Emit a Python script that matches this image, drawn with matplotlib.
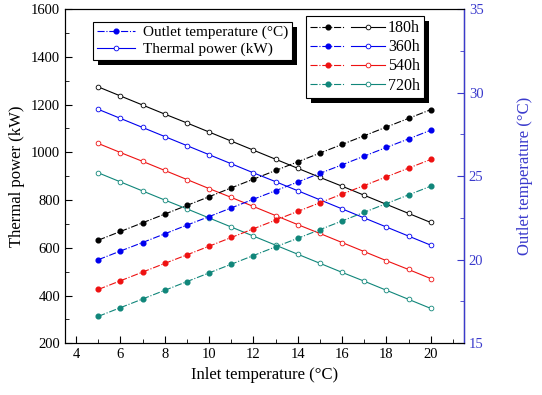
import numpy as np
import matplotlib
matplotlib.use("Agg")
import matplotlib.pyplot as plt
from matplotlib.lines import Line2D
from matplotlib.legend_handler import HandlerTuple
from matplotlib.patches import Rectangle
from matplotlib.ticker import MultipleLocator

plt.rcParams['font.family'] = ['Liberation Serif', 'DejaVu Serif']

# data
inlet = [5, 6, 7, 8, 9, 10, 11, 12, 13, 14, 15, 16, 17, 18, 19, 20]
hours = ['180h', '360h', '540h', '720h']
colors = ['black', '#0000ee', '#ee1111', '#10867a']

power = {
    '180h': [1274, 1236, 1198, 1160, 1123, 1085, 1047, 1009, 971, 933, 895, 858, 820, 782, 744, 706],
    '360h': [1180, 1142, 1104, 1066, 1028, 990, 952, 914, 877, 839, 801, 763, 725, 687, 649, 611],
    '540h': [1037, 999, 962, 924, 886, 848, 811, 773, 735, 697, 660, 622, 584, 546, 509, 471],
    '720h': [914, 876, 838, 800, 763, 725, 687, 649, 611, 573, 535, 497, 460, 422, 384, 346],
}
outlet = {
    '180h': [21.17, 21.69, 22.21, 22.73, 23.25, 23.77, 24.30, 24.82, 25.34, 25.86, 26.38, 26.90, 27.42, 27.94, 28.46, 28.98],
    '360h': [20.00, 20.52, 21.03, 21.55, 22.07, 22.58, 23.10, 23.62, 24.13, 24.65, 25.17, 25.68, 26.20, 26.72, 27.23, 27.75],
    '540h': [18.22, 18.74, 19.26, 19.78, 20.29, 20.81, 21.33, 21.85, 22.37, 22.89, 23.41, 23.93, 24.44, 24.96, 25.48, 26.00],
    '720h': [16.61, 17.13, 17.65, 18.17, 18.69, 19.21, 19.73, 20.25, 20.77, 21.28, 21.80, 22.32, 22.84, 23.36, 23.88, 24.40],
}

right_col = '#3a3acc'

fig = plt.figure(figsize=(5.42, 3.95), dpi=100)
ax = fig.add_axes([0.120, 0.131, 0.736, 0.846])
ax2 = ax.twinx()

lw = 0.8
ms = 3.4
for h, c in zip(hours, colors):
    ax.plot(inlet, power[h], '-', color=c, lw=lw, marker='o', ms=ms,
            mfc='white', mec=c, mew=0.6)
    ax2.plot(inlet, outlet[h], '-.', color=c, lw=lw, marker='o', ms=ms,
             mfc=c, mec=c)

ax.set_xlim(3.5, 21.5)
ax.set_ylim(200, 1600)
ax2.set_ylim(15, 35)

ax.xaxis.set_major_locator(MultipleLocator(2))
ax.xaxis.set_minor_locator(MultipleLocator(1))
ax.yaxis.set_major_locator(MultipleLocator(200))
ax.yaxis.set_minor_locator(MultipleLocator(100))
ax2.yaxis.set_major_locator(MultipleLocator(5))
ax2.yaxis.set_minor_locator(MultipleLocator(2.5))

ax.tick_params(which='both', direction='in', labelsize=10.5, top=False)
ax.tick_params(which='major', length=5)
ax.tick_params(which='minor', length=3)
ax2.tick_params(which='both', direction='in', colors=right_col, labelsize=10.5)
ax2.tick_params(which='major', length=5)
ax2.tick_params(which='minor', length=3)
ax2.spines['right'].set_color(right_col)
ax2.spines['right'].set_linewidth(1.0)

ax.set_xlabel('Inlet temperature (°C)', fontsize=12)
ax.set_ylabel('Thermal power (kW)', fontsize=12)
ax2.set_ylabel('Outlet temperature (°C)', fontsize=12, color=right_col, labelpad=24)

# legend 1: line styles
h1 = [Line2D([], [], ls='-.', color='#0000ee', lw=lw, marker='o', ms=ms, mfc='#0000ee'),
      Line2D([], [], ls='-', color='#0000ee', lw=lw, marker='o', ms=ms, mfc='white', mew=0.6)]
leg1 = ax2.legend(h1, ['Outlet temperature (°C)', 'Thermal power (kW)'],
                  loc='upper left', bbox_to_anchor=(0.07, 0.962), fontsize=11,
                  frameon=True, fancybox=False, framealpha=1, edgecolor='black',
                  numpoints=1, handlelength=2.5, handletextpad=0.5,
                  borderpad=0.25, labelspacing=0.2, borderaxespad=0)
leg1.get_frame().set_linewidth(0.8)
ax2.add_artist(leg1)

# legend 2: ageing hours
h2 = []
for c in colors:
    a = Line2D([], [], ls='-.', color=c, lw=lw, marker='o', ms=ms, mfc=c)
    b = Line2D([], [], ls='-', color=c, lw=lw, marker='o', ms=ms, mfc='white', mew=0.6)
    h2.append((a, b))
leg2 = ax2.legend(h2, hours, handler_map={tuple: HandlerTuple(ndivide=None, pad=0.4)},
                  loc='upper left', bbox_to_anchor=(0.605, 0.979), fontsize=11.5,
                  frameon=True, fancybox=False, framealpha=1, edgecolor='black',
                  numpoints=1, handlelength=4.7, handletextpad=0.15,
                  borderpad=0.25, labelspacing=0.2, borderaxespad=0)
leg2.get_frame().set_linewidth(0.8)

# black drop shadows behind the legends
fig.canvas.draw()
for lg in (leg1, leg2):
    bb = lg.get_window_extent()
    sh = Rectangle((bb.x0 + 5, bb.y0 - 5), bb.width, bb.height, transform=None,
                   facecolor='black', edgecolor='none', zorder=4.5, clip_on=False)
    ax2.add_artist(sh)
leg1.set_zorder(6)
leg2.set_zorder(6)

fig.savefig('out.png', dpi=100)
